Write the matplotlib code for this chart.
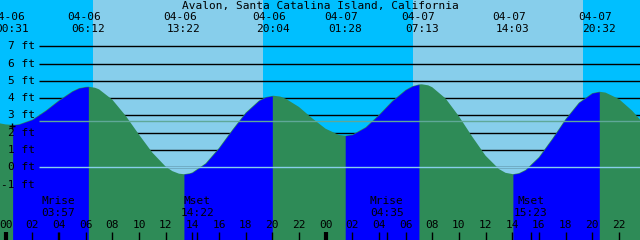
import numpy as np
import matplotlib.pyplot as plt
from matplotlib.transforms import blended_transform_factory

title = "Avalon, Santa Catalina Island, California"

# high / low tide events (header labels)
tide_dates = ['04-06', '04-06', '04-06', '04-06', '04-07', '04-07', '04-07', '04-07']
tide_clock = ['00:31', '06:12', '13:22', '20:04', '01:28', '07:13', '14:03', '20:32']

# tide curve (hours from 04-06 00:00, feet)
curve_t = [-0.43, 0, 0.52, 1, 2, 3, 4, 5, 5.5, 6, 6.2,
           6.7, 7, 8, 9, 10, 11, 12, 12.5, 13, 13.37,
           13.8, 14, 15, 16, 17, 18, 19, 19.5, 20, 20.07,
           20.6, 21, 22, 23, 24, 25, 25.47,
           26, 27, 28, 29, 30, 30.5, 31, 31.22,
           31.7, 32, 33, 34, 35, 36, 37, 37.5, 38, 38.05,
           38.5, 39, 40, 41, 42, 43, 44, 44.53,
           45, 46, 47, 47.6]
curve_h = [2.54, 2.48, 2.45, 2.49, 2.76, 3.28, 3.88, 4.40, 4.58, 4.65, 4.66,
           4.60, 4.51, 3.91, 2.98, 1.89, 0.85, 0.04, -0.22, -0.37, -0.40,
           -0.35, -0.30, 0.23, 1.12, 2.17, 3.16, 3.86, 4.06, 4.13, 4.14,
           4.09, 3.97, 3.49, 2.83, 2.23, 1.87, 1.83,
           1.89, 2.32, 3.04, 3.84, 4.48, 4.69, 4.79, 4.80,
           4.74, 4.63, 3.98, 2.95, 1.77, 0.67, -0.10, -0.32, -0.39, -0.40,
           -0.34, -0.15, 0.59, 1.65, 2.79, 3.74, 4.29, 4.37,
           4.32, 3.95, 3.27, 2.75]

# sun (band edges) and moon events, hours from 04-06 00:00
sunrise = [6.53, 30.53]
sunset = [19.28, 43.29]
moon_label = ['Mrise', 'Mset', 'Mrise', 'Mset']
moon_clock = ['03:57', '14:22', '04:35', '15:23']
moon_day = [0, 0, 1, 1]

ft_levels = [7, 6, 5, 4, 3, 2, 1, 0, -1]
mean_level = 2.7


def to_hours(clock, day):
    hh, mm = clock.split(':')
    return 24 * day + int(hh) + int(mm) / 60


tide_days = [0 if d == '04-06' else 1 for d in tide_dates]
tide_t = [to_hours(c, d) for c, d in zip(tide_clock, tide_days)]
moon_t = [to_hours(c, d) for c, d in zip(moon_clock, moon_day)]

night = '#00BFFF'
day = '#87CEEB'
rising = '#0000FF'
falling = '#2E8B57'
font = 'DejaVu Sans Mono'
fs = 8

fig = plt.figure(figsize=(6.4, 2.4), dpi=100)
ax = fig.add_axes([0, 0, 1, 1])
x0, x1 = -0.428, 47.585
ax.set_xlim(x0, x1)
ax.set_ylim(-4.205, 9.676)
ax.axis('off')
trans = blended_transform_factory(ax.transData, ax.transAxes)

# night / day bands
ax.axvspan(x0, x1, color=night, zorder=0, lw=0)
for a, b in zip(sunrise, sunset):
    ax.axvspan(a, b, color=day, zorder=0.5, lw=0)

# grid lines behind the water
ax.hlines(ft_levels, 2.5, x1, colors='black', lw=1, zorder=1)

# water: whole curve green, rising stretches laid over in blue
t = np.array(curve_t)
h = np.array(curve_h)
ax.fill_between(t, -5, h, color=falling, lw=0, zorder=2)
edges = [t[0]] + tide_t + [t[-1]]
for a, b in zip(edges[:-1], edges[1:]):
    m = (t >= a) & (t <= b)
    if h[m][-1] > h[m][0]:
        ax.fill_between(t[m], -5, h[m], color=rising, lw=0, zorder=2.1)

ax.hlines(0, 2.5, x1, colors=day, lw=1, zorder=3)
ax.hlines(mean_level, 2.5, x1, colors='#5FA898', lw=1, zorder=3)
ax.plot([0.45], [2.38], marker='+', color='black', ms=5, mew=1, zorder=4)

for lv in ft_levels:
    ax.text(2.2, lv, f'{lv} ft', ha='right', va='center', fontsize=fs,
            family=font, zorder=5)

# header
ax.text(23.6, 1 - 6 / 240, title, ha='center', va='center', fontsize=fs,
        family=font, transform=trans, zorder=5)
for tt, d, c in zip(tide_t, tide_dates, tide_clock):
    ax.text(tt - 0.3, 1 - 17.5 / 240, d, ha='center', va='center',
            fontsize=fs, family=font, transform=trans, zorder=5)
    ax.text(tt, 1 - 29.5 / 240, c, ha='center', va='center',
            fontsize=fs, family=font, transform=trans, zorder=5)

# moon rise / set
for mt, lab, c in zip(moon_t, moon_label, moon_clock):
    ax.text(mt, 1 - 201.5 / 240, lab, ha='center', va='center',
            fontsize=fs, family=font, transform=trans, zorder=5)
    ax.text(mt, 1 - 213 / 240, c, ha='center', va='center',
            fontsize=fs, family=font, transform=trans, zorder=5)

# hour axis along the bottom
hours = np.arange(0, 50, 2)
for hr in hours:
    ax.text(hr, 1 - 225.5 / 240, f'{hr % 24:02d}', ha='center', va='center',
            fontsize=fs, family=font, transform=trans, zorder=5)
    ax.vlines(hr, 0, 8 / 240, colors='black', lw=3 if hr % 24 == 0 else 1,
              transform=trans, zorder=5)
ax.vlines(moon_t, 0, 8 / 240, colors='black', lw=1, transform=trans, zorder=5)

fig.savefig('out.png', dpi=100)
